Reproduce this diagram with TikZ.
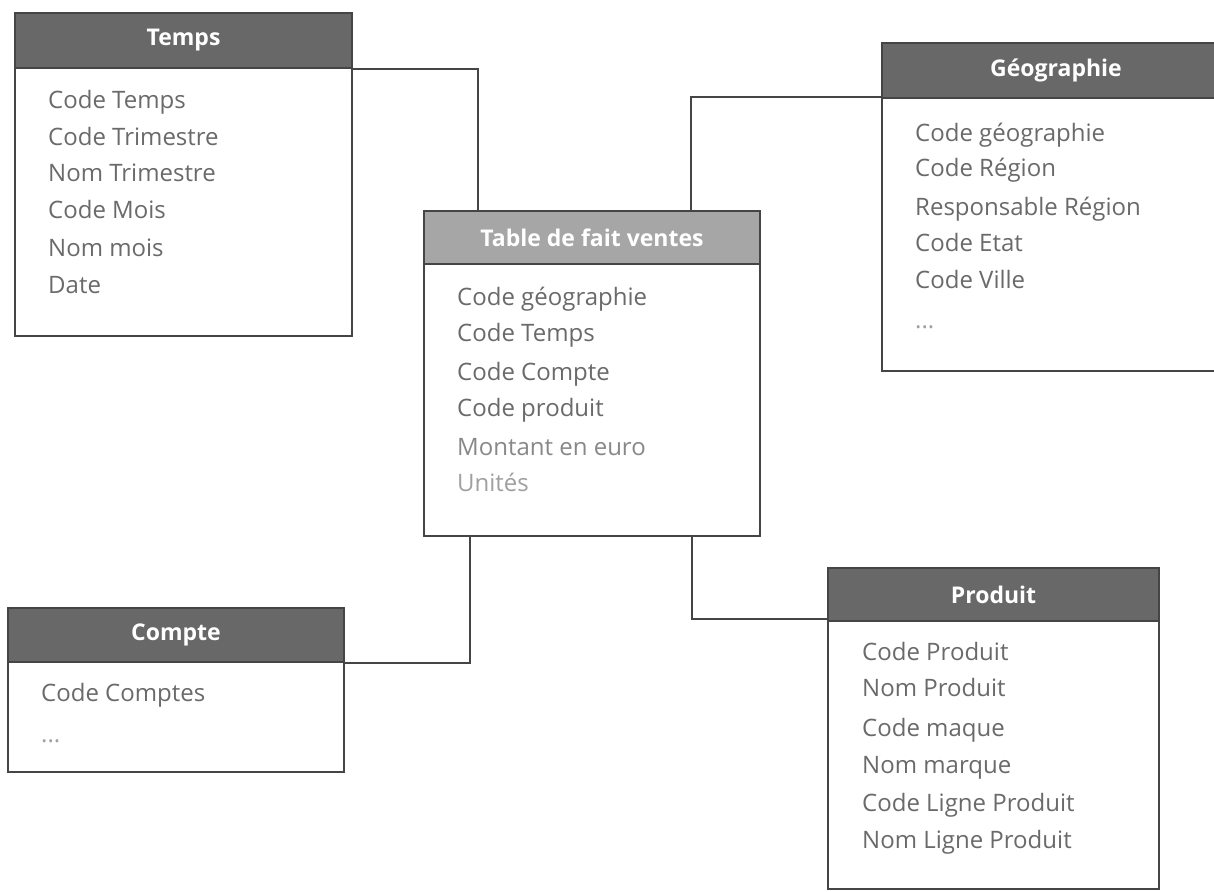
\documentclass[tikz,border=0pt]{standalone}
\usepackage{fontspec}
\setmainfont{Open Sans}
\usetikzlibrary{calc}
\definecolor{hdark}{HTML}{686868}
\definecolor{hlight}{HTML}{A6A6A6}
\definecolor{edgegray}{HTML}{454545}
\definecolor{itemgray}{HTML}{6A6A6A}
\definecolor{paleitem}{HTML}{A0A0A0}
\begin{document}
\begin{tikzpicture}[x=1pt,y=-1pt,
  tabhead/.style={draw=edgegray, line width=2pt, fill=hdark, anchor=north west,
    inner sep=0pt, text=white, font=\bfseries\fontsize{23}{26}\selectfont},
  facthead/.style={tabhead, fill=hlight},
  tabbody/.style={draw=edgegray, line width=2pt, fill=white, anchor=north west, inner sep=0pt},
  item/.style={anchor=base west, inner sep=0pt, text=itemgray, font=\fontsize{24}{28}\selectfont},
  paleitemstyle/.style={item, text=paleitem},
  link/.style={draw=edgegray, line width=2pt}]
\useasboundingbox (0,0) rectangle (1214,891);

% Temps
\node[tabbody, minimum width=337pt, minimum height=268pt] (tempsB) at (14,67) {};
\node[tabhead, minimum width=337pt, minimum height=55pt] (tempsH) at (14,12) {Temps};
\node[item] (t1) at (48,108) {Code Temps};
\node[item] (t2) at (48,145) {Code Trimestre};
\node[item] (t3) at (48,181) {Nom Trimestre};
\node[item] (t4) at (48,218) {Code Mois};
\node[item] (t5) at (48,256) {Nom mois};
\node[item] (t6) at (48,293) {Date};

% Table de fait ventes
\node[tabbody, minimum width=336pt, minimum height=272pt] (factB) at (423,263) {};
\node[facthead, minimum width=336pt, minimum height=53pt] (factH) at (423,210) {Table de fait ventes};
\node[item] (f1) at (457,305) {Code géographie};
\node[item] (f2) at (457,341) {Code Temps};
\node[item] (f3) at (457,380) {Code Compte};
\node[item] (f4) at (457,416) {Code produit};
\node[item, text=itemgray!80] (f5) at (457,455) {Montant en euro};
\node[paleitemstyle] (f6) at (457,491) {Unités};

% Géographie
\node[tabbody, minimum width=348pt, minimum height=273pt] (geoB) at (881,97) {};
\node[tabhead, minimum width=348pt, minimum height=55pt] (geoH) at (881,42) {Géographie};
\node[item] (g1) at (915,141) {Code géographie};
\node[item] (g2) at (915,176) {Code Région};
\node[item] (g3) at (915,215) {Responsable Région};
\node[item] (g4) at (915,251) {Code Etat};
\node[item] (g5) at (915,288) {Code Ville};
\node[paleitemstyle] (g6) at (915,328) {...};

% Compte
\node[tabbody, minimum width=336pt, minimum height=110pt] (compteB) at (7,661) {};
\node[tabhead, minimum width=336pt, minimum height=54pt] (compteH) at (7,607) {Compte};
\node[item] (c1) at (41,701) {Code Comptes};
\node[paleitemstyle] (c2) at (41,742) {...};

% Produit
\node[tabbody, minimum width=331pt, minimum height=268pt] (produitB) at (827,620) {};
\node[tabhead, minimum width=331pt, minimum height=53pt] (produitH) at (827,567) {Produit};
\node[item] (p1) at (862,660) {Code Produit};
\node[item] (p2) at (862,696) {Nom Produit};
\node[item] (p3) at (862,736) {Code maque};
\node[item] (p4) at (862,773) {Nom marque};
\node[item] (p5) at (862,811) {Code Ligne Produit};
\node[item] (p6) at (862,848) {Nom Ligne Produit};

% Links between the dimension tables and the fact table
\draw[link] (tempsH.south east) -| ($(factH.north west)+(55,0)$);
\draw[link] ($(geoH.south west)+(0,-2)$) -| ($(factH.north west)+(268,0)$);
\draw[link] (compteH.south east) -| ($(factB.south west)+(47,0)$);
\draw[link] ($(factB.south west)+(269,0)$) |- ($(produitH.south west)+(0,-3)$);
\end{tikzpicture}
\end{document}
